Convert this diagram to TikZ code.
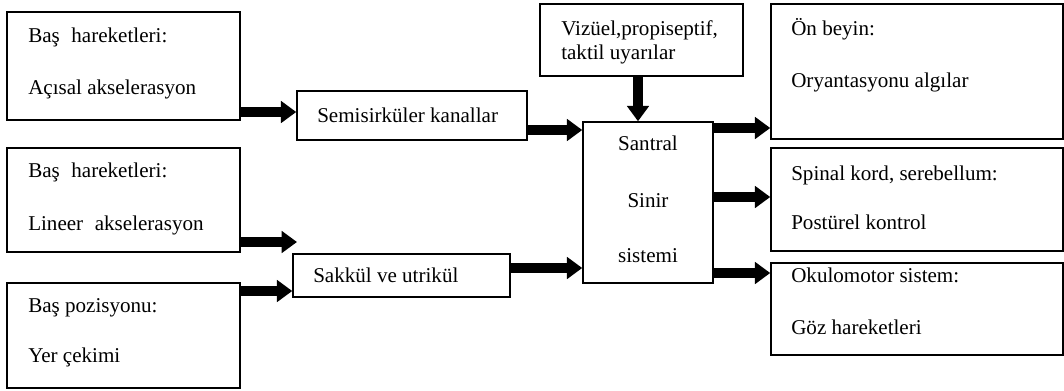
\documentclass[tikz,border=0pt]{standalone}
\usepackage{fontspec}
\setmainfont{Liberation Serif}
\usetikzlibrary{arrows.meta,fit}
\begin{document}
\begin{tikzpicture}[x=0.75pt,y=-0.75pt,
  box/.style={draw=black,line width=1.1pt,inner sep=0pt},
  txt/.style={anchor=base west,inner sep=0pt,font=\fontsize{15.8}{19}\selectfont},
  ctxt/.style={anchor=base,inner sep=0pt,font=\fontsize{15.8}{19}\selectfont},
  arr/.style={line width=7.5pt,-{Triangle[length=11.5pt,width=16pt]}}]
\useasboundingbox (0,0) rectangle (1064,390);
\fill[white] (0,0) rectangle (1064,390);
% boxes
\node[box,fit={(7,12)(240,120)}] (A) {};
\node[box,fit={(7,148)(240,252)}] (B) {};
\node[box,fit={(7,283)(240,388)}] (C) {};
\node[box,fit={(297,91)(527,140)}] (semi) {};
\node[box,fit={(293,254)(510,297)}] (sak) {};
\node[box,fit={(540,4)(743,76)}] (viz) {};
\node[box,fit={(583,122)(713,283)}] (ss) {};
\node[box,fit={(771,4)(1063,139)}] (on) {};
\node[box,fit={(771,148)(1063,251)}] (sp) {};
\node[box,fit={(771,263)(1063,355)}] (ok) {};
% texts
\node[txt] (A1) at (28,42) {Baş\hspace{0.3em} hareketleri:};
\node[txt] (A2) at (28,94) {Açısal akselerasyon};
\node[txt] (B1) at (28,177) {Baş\hspace{0.3em} hareketleri:};
\node[txt] (B2) at (28,230) {Lineer\hspace{0.3em} akselerasyon};
\node[txt] (C1) at (28,312) {Baş pozisyonu:};
\node[txt] (C2) at (28,362) {Yer çekimi};
\node[txt] (semit) at (317,122) {Semisirküler kanallar};
\node[txt] (sakt) at (313,282) {Sakkül ve utrikül};
\node[txt] (viz1) at (561,35) {Vizüel,propiseptif,};
\node[txt] (viz2) at (561,59) {taktil uyarılar};
\node[ctxt] (ss1) at (648,150) {Santral};
\node[ctxt] (ss2) at (648,207) {Sinir};
\node[ctxt] (ss3) at (648,262) {sistemi};
\node[txt] (on1) at (791,35) {Ön beyin:};
\node[txt] (on2) at (791,87) {Oryantasyonu algılar};
\node[txt] (sp1) at (791,180) {Spinal kord, serebellum:};
\node[txt] (sp2) at (791,229) {Postürel kontrol};
\node[txt] (ok1) at (791,282) {Okulomotor sistem:};
\node[txt] (ok2) at (791,334) {Göz hareketleri};
% arrows
\coordinate (Bend) at (297,242);
\draw[arr] (A.east |- 0,112) -- (semi.west |- 0,112);
\draw[arr] (B.east |- Bend) -- (Bend);
\draw[arr] (C.east |- 0,291) -- (sak.west |- 0,291);
\draw[arr] (semi.east |- 0,130) -- (ss.west |- 0,130);
\draw[arr] (sak.east |- 0,268) -- (ss.west |- 0,268);
\draw[arr] (viz.south -| 638,0) -- (ss.north -| 638,0);
\draw[arr] (ss.east |- 0,128) -- (on.west |- 0,128);
\draw[arr] (ss.east |- 0,197) -- (sp.west |- 0,197);
\draw[arr] (ss.east |- 0,273) -- (ok.west |- 0,273);
\end{tikzpicture}
\end{document}
